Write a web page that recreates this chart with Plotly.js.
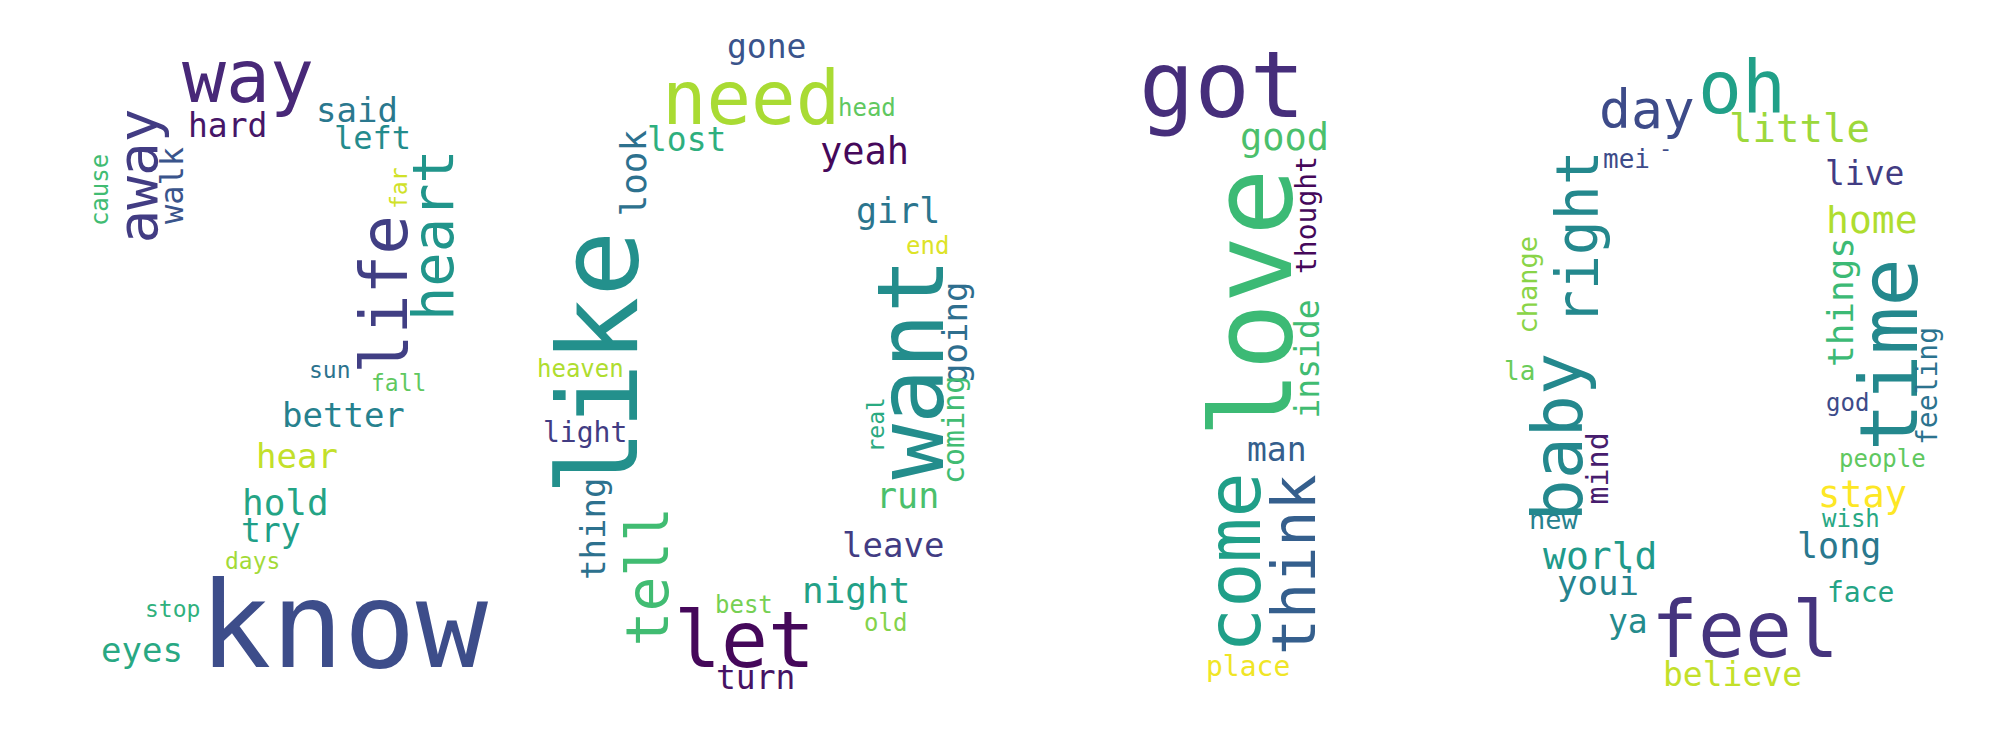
<!DOCTYPE html>
<html>
<head>
<meta charset="utf-8">
<script src="https://cdn.plot.ly/plotly-3.0.1.min.js"></script>
<style>
  html, body { margin: 0; padding: 0; background: #ffffff; }
  #cloud { width: 1992px; height: 748px; }
</style>
</head>
<body>
<div id="cloud"></div>
<script>
// Word cloud "2020": words, where they sit on the canvas, weight and viridis tone

const words = [
  "way", "hard", "said", "left", "away", "walk", "cause", "far", "heart", "life",
  "sun", "fall", "better", "hear", "hold", "try", "days", "stop", "eyes", "know",
  "gone", "need", "head", "lost", "look", "yeah", "girl", "end", "like", "want",
  "going", "coming", "heaven", "light", "real", "thing", "tell", "let", "turn", "best",
  "night", "old", "leave", "run", "got", "good", "thought", "love", "inside", "change",
  "man", "come", "think", "place", "day", "oh", "little", "mei", "-", "right",
  "live", "home", "things", "time", "feeling", "la", "baby", "mind", "new", "world",
  "youi", "ya", "feel", "believe", "face", "long", "wish", "stay", "people", "god"
];

const wordX = [
  247.5, 227, 356.5, 372, 137, 172, 99.6, 399, 433, 384,
  330, 398, 343.5, 297, 285.5, 271, 252, 172.5, 142, 343.5,
  766, 750.5, 866.5, 686, 633, 864, 897.5, 927, 598, 911,
  955, 953.5, 580, 585, 875, 593, 647, 744, 755, 744,
  856, 885.5, 893, 907.5, 1222, 1284, 1306, 1252, 1306.5, 1526.5,
  1277, 1234, 1294, 1248, 1646.5, 1742, 1799.5, 1626.5, 1665, 1578,
  1864.5, 1872, 1840, 1889, 1927, 1519, 1557.5, 1596.5, 1554, 1600,
  1597.5, 1627.5, 1744.5, 1732, 1860, 1838.5, 1851, 1862.5, 1882, 1847.5
];

const wordY = [
  76.5, 125.5, 110, 138, 176.5, 186, 190.5, 188, 235, 295,
  370, 383, 415, 456, 502, 530.5, 561, 609, 650, 625,
  46.5, 98, 107.6, 139.5, 173.5, 151, 211, 245.6, 363.5, 368.5,
  333, 430.5, 368.6, 432, 425.5, 529, 576.5, 640, 677, 604.6,
  590, 622.6, 545, 496, 85, 137, 215, 303, 359, 285,
  449.5, 563, 565, 666, 109.5, 87.5, 128, 159, 148, 238,
  173.5, 220, 302, 355, 386, 371, 437, 469, 519.5, 556,
  583, 621.5, 630, 674.5, 592, 546, 518.6, 494, 458.6, 402.6
];

const weight = [
  73, 33, 34, 32, 56, 32, 24, 23, 57, 66,
  23, 23, 34, 34, 36, 33, 23, 23, 34, 120,
  33, 74, 24, 33, 36, 37, 35, 24, 110, 92,
  34, 30, 24, 28, 23, 34, 58, 78, 33, 24,
  36, 24, 34, 35, 92, 37, 28, 112, 33, 27,
  33, 75, 60, 28, 53, 73, 39, 26, 22, 58,
  33, 38, 36, 80, 28, 26, 70, 30, 27, 38,
  34, 33, 78, 33, 28, 35, 24, 37, 24, 24
];

// 1 = drawn upright (reads bottom to top)
const upright = [
  0, 0, 0, 0, 1, 1, 1, 1, 1, 1,
  0, 0, 0, 0, 0, 0, 0, 0, 0, 0,
  0, 0, 0, 0, 1, 0, 0, 0, 1, 1,
  1, 1, 0, 0, 1, 1, 1, 0, 0, 0,
  0, 0, 0, 0, 0, 0, 1, 1, 1, 1,
  0, 1, 1, 0, 0, 0, 0, 0, 0, 1,
  0, 0, 1, 1, 1, 0, 1, 1, 0, 0,
  0, 0, 0, 0, 0, 0, 0, 0, 0, 0
];

const tone = [
  0.11, 0.06, 0.40, 0.48, 0.18, 0.26, 0.69, 0.93, 0.52, 0.19,
  0.38, 0.75, 0.44, 0.91, 0.58, 0.56, 0.86, 0.64, 0.60, 0.235,
  0.26, 0.87, 0.75, 0.63, 0.37, 0.02, 0.39, 0.95, 0.50, 0.49,
  0.36, 0.69, 0.88, 0.18, 0.61, 0.37, 0.69, 0.02, 0.05, 0.79,
  0.57, 0.81, 0.18, 0.71, 0.13, 0.71, 0.02, 0.68, 0.69, 0.82,
  0.30, 0.56, 0.30, 0.98, 0.23, 0.565, 0.85, 0.23, 0.23, 0.47,
  0.18, 0.88, 0.68, 0.47, 0.38, 0.77, 0.47, 0.08, 0.44, 0.54,
  0.45, 0.48, 0.15, 0.91, 0.58, 0.40, 0.60, 1.00, 0.75, 0.23
];

// viridis lookup
const viridis = [
  [68, 1, 84], [72, 40, 120], [62, 73, 137], [49, 104, 142], [38, 130, 142],
  [31, 158, 137], [53, 183, 121], [110, 206, 88], [181, 222, 43], [253, 231, 37]
];

function viridisColor(t) {
  const p = Math.max(0, Math.min(1, t)) * (viridis.length - 1);
  const i = Math.min(Math.floor(p), viridis.length - 2);
  const f = p - i;
  const c = viridis[i].map((v, k) => Math.round(v + (viridis[i + 1][k] - v) * f));
  return "rgb(" + c.join(",") + ")";
}

const annotations = words.map((w, i) => ({
  x: wordX[i],
  y: wordY[i],
  xref: "x",
  yref: "y",
  text: w,
  showarrow: false,
  xanchor: "center",
  yanchor: "middle",
  textangle: upright[i] ? -90 : 0,
  font: {
    family: "DejaVu Sans Mono, monospace",
    size: weight[i],
    color: viridisColor(tone[i])
  }
}));

const trace = {
  x: wordX,
  y: wordY,
  type: "scatter",
  mode: "markers",
  marker: { opacity: 0, size: 1 },
  hoverinfo: "skip",
  showlegend: false
};

const layout = {
  width: 1992,
  height: 748,
  margin: { l: 0, r: 0, t: 0, b: 0 },
  paper_bgcolor: "#ffffff",
  plot_bgcolor: "#ffffff",
  xaxis: { range: [0, 1992], visible: false, fixedrange: true },
  yaxis: { range: [748, 0], visible: false, fixedrange: true },
  annotations: annotations,
  showlegend: false
};

Plotly.newPlot("cloud", [trace], layout, { displayModeBar: false, staticPlot: true });
</script>
</body>
</html>
